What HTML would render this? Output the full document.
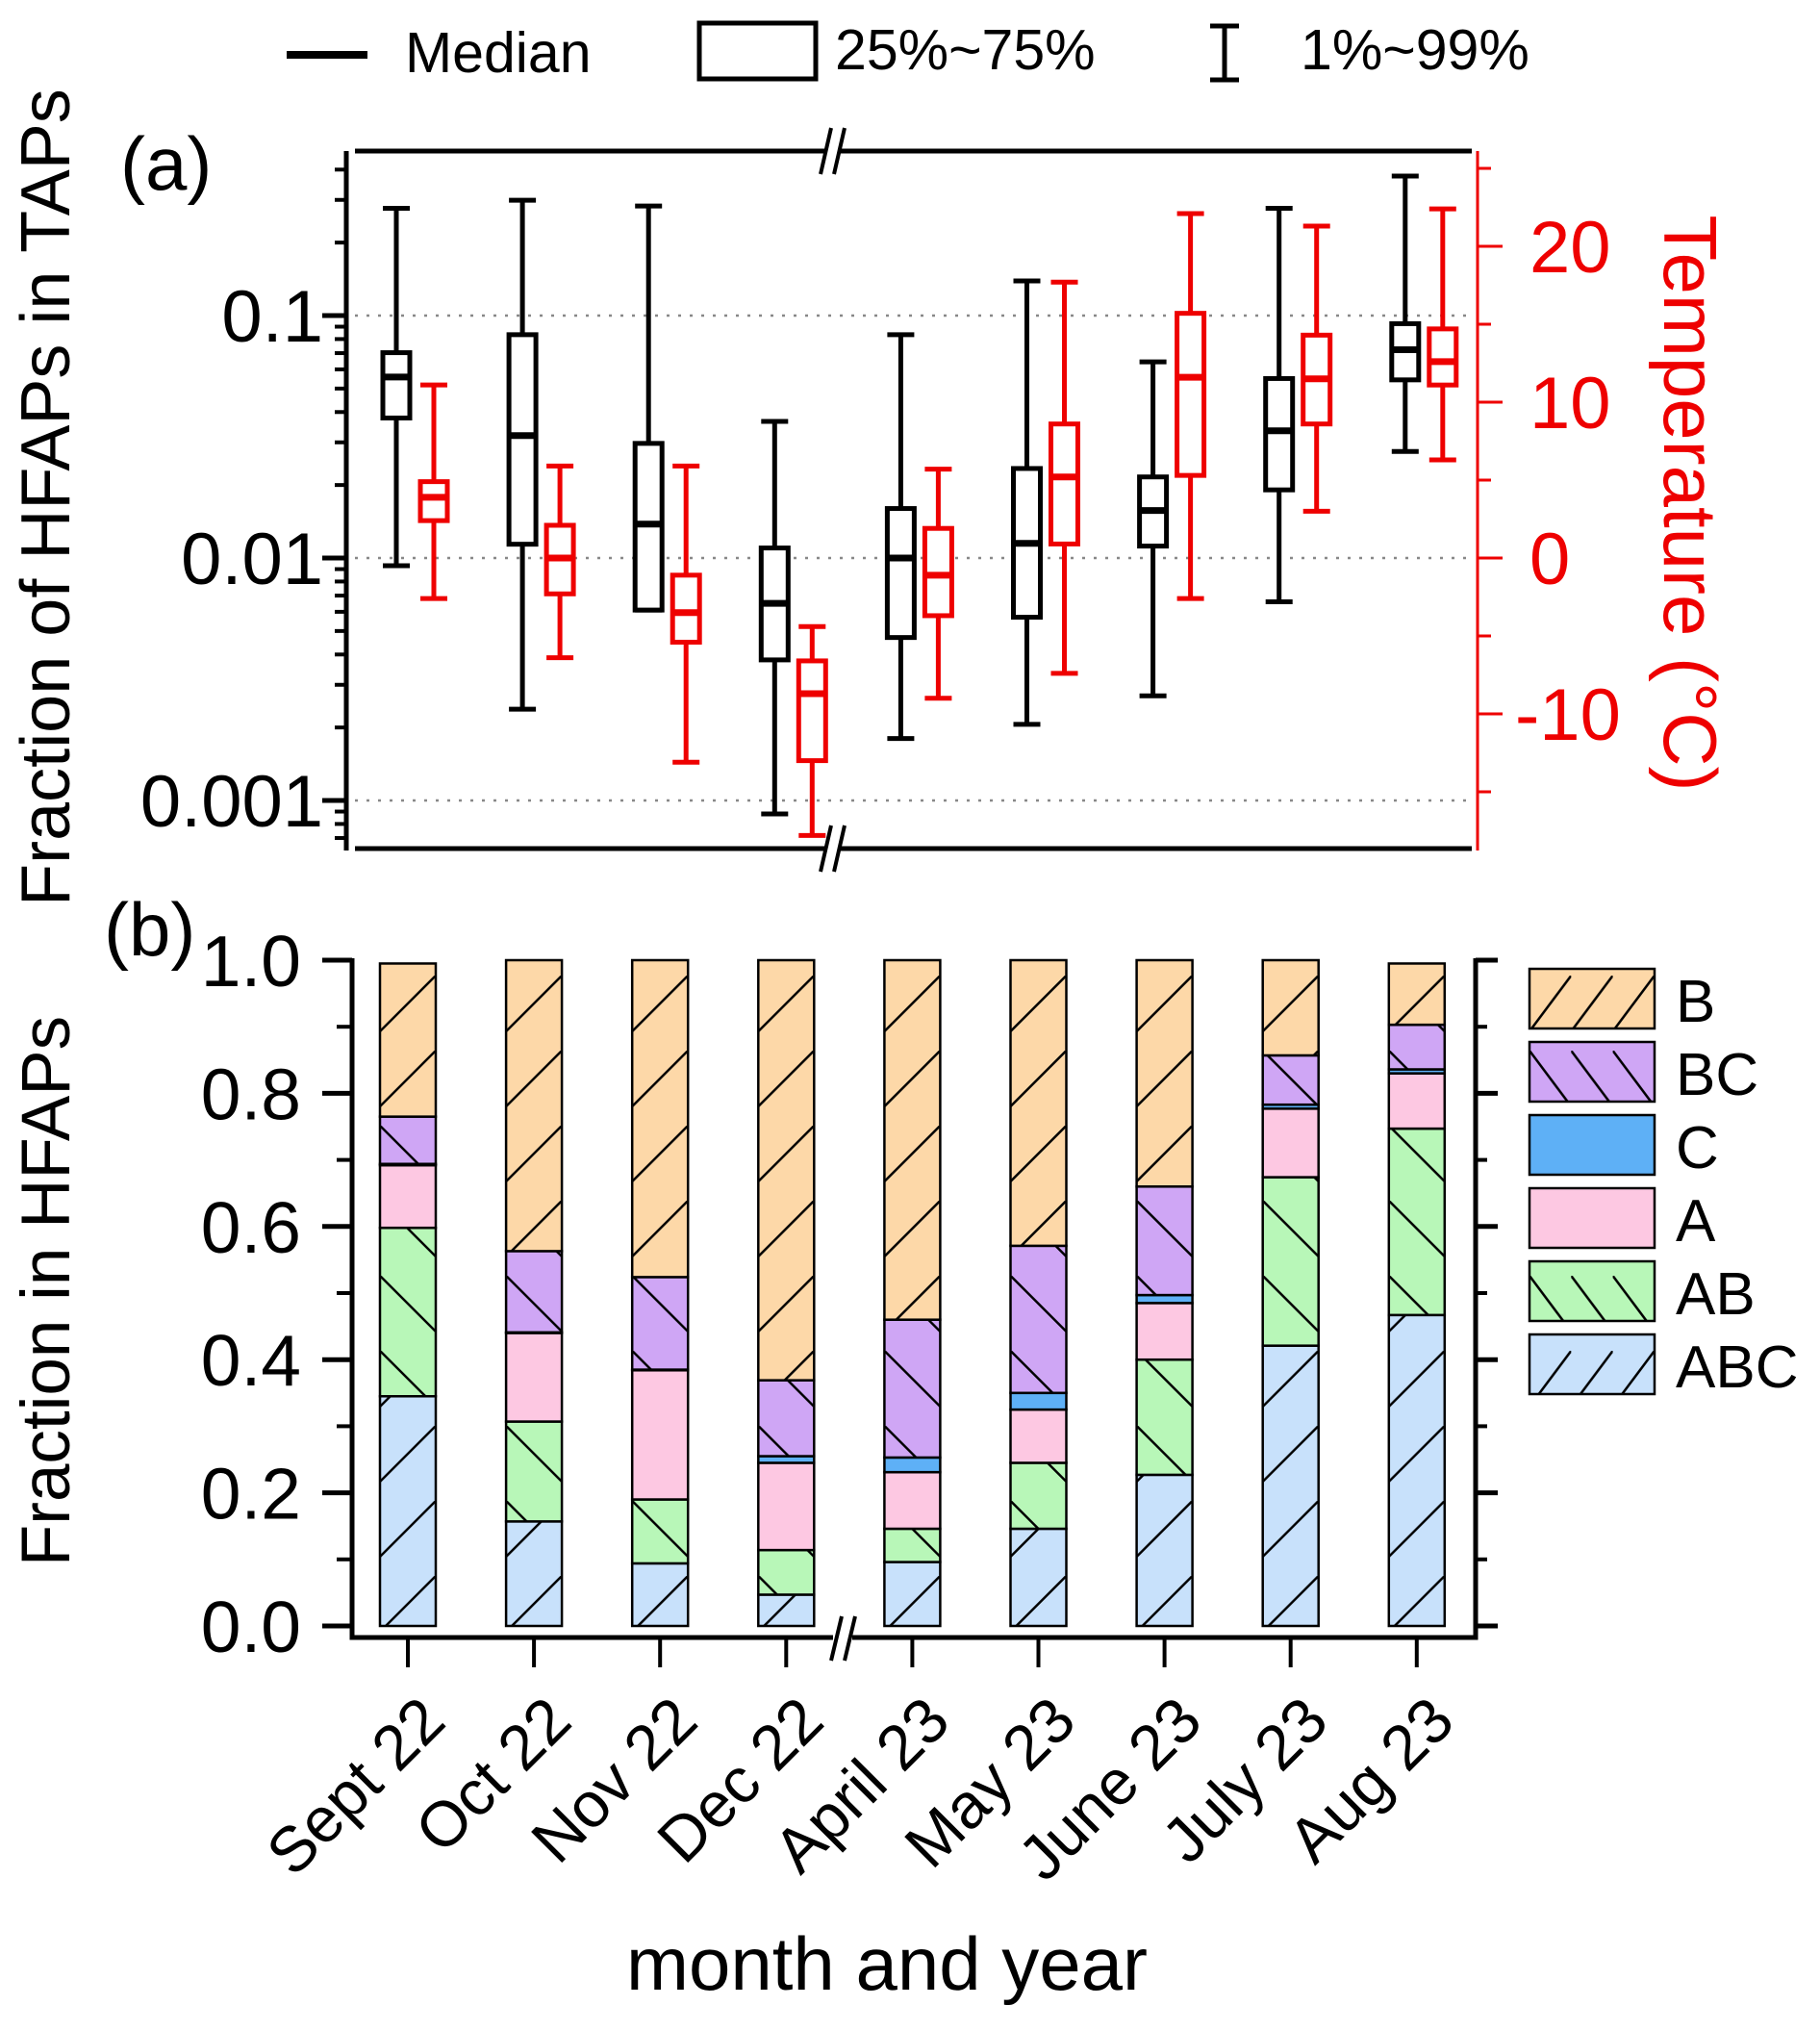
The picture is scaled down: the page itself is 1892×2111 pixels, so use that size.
<!DOCTYPE html>
<html><head><meta charset="utf-8"><style>
html,body{margin:0;padding:0;background:#fff;}
svg{display:block;font-family:"Liberation Sans",Arial,sans-serif;}
</style></head><body>
<svg id="chart" width="1892" height="2111" viewBox="0 0 1892 2111" xmlns="http://www.w3.org/2000/svg">
<defs id="defs"></defs>
<g id="layer"></g>
</svg>
<script>
// ---- panel (a) data ----
const months = ["Sept 22","Oct 22","Nov 22","Dec 22","April 23","May 23","June 23","July 23","Aug 23"];
const fracP1  = [0.0093,0.00238,0.0061,0.00088,0.0018,0.00206,0.0027,0.0066,0.0275];
const fracQ1  = [0.0378,0.0114,0.0061,0.0038,0.0047,0.0057,0.0112,0.0191,0.0543];
const fracMed = [0.0558,0.032,0.0138,0.0065,0.01,0.0115,0.0157,0.0335,0.0723];
const fracQ3  = [0.0703,0.0834,0.0297,0.011,0.016,0.0234,0.0216,0.055,0.0926];
const fracP99 = [0.277,0.299,0.283,0.0366,0.0834,0.139,0.0644,0.277,0.376];
const tempP1  = [-2.6,-6.4,-13.1,-17.8,-9.0,-7.4,-2.6,3.0,6.3];
const tempQ1  = [2.4,-2.3,-5.4,-13.0,-3.7,0.9,5.3,8.6,11.1];
const tempMed = [3.9,0,-3.5,-8.7,-1.1,5.2,11.6,11.5,12.6];
const tempQ3  = [4.9,2.1,-1.1,-6.6,1.9,8.6,15.7,14.3,14.7];
const tempP99 = [11.1,5.9,5.9,-4.4,5.7,17.7,22.1,21.3,22.4];
const logTicks = [0.1,0.01,0.001];
const logTickLabels = ["0.1","0.01","0.001"];
const tempTicks = [20,10,0,-10];
// ---- panel (b) data ----
const segNames = ["ABC","AB","A","C","BC","B"];
const segABC = [.345,.157,.094,.047,.096,.146,.227,.421,.467];
const segAB  = [.253,.150,.096,.067,.050,.099,.173,.253,.280];
const segA   = [.094,.133,.194,.131,.085,.080,.085,.103,.083];
const segC   = [.002,.001,.001,.010,.022,.025,.012,.006,.006];
const segBC  = [.071,.122,.139,.114,.207,.221,.163,.074,.067];
const segB   = [.230,.437,.476,.631,.540,.429,.340,.143,.092];
const fracTicks = [0,0.2,0.4,0.6,0.8,1.0];
const fracTickLabels = ["0.0","0.2","0.4","0.6","0.8","1.0"];

const NS="http://www.w3.org/2000/svg";
const layer=document.getElementById('layer');
const defs=document.getElementById('defs');
function mk(tag,attrs,parent){const e=document.createElementNS(NS,tag);for(const k in attrs)e.setAttribute(k,attrs[k]);(parent||layer).appendChild(e);return e;}
function txt(s,attrs){const e=mk('text',attrs);e.textContent=s;return e;}
let patId=0;
function hatch(x0,w,dir){
  const id='hp'+(patId++);
  const p=mk('pattern',{id:id,patternUnits:'userSpaceOnUse',x:x0,y:0,width:w,height:78},defs);
  if(dir>0) mk('line',{x1:0,y1:58,x2:w,y2:0,stroke:'#000','stroke-width':2.5},p);
  else mk('line',{x1:0,y1:0,x2:w,y2:58,stroke:'#000','stroke-width':2.5},p);
  return 'url(#'+id+')';
}

const catX = i => 424 + i*131.1;
const yLog = v => 580 - (Math.log10(v)+2)*252;
const yT = t => 580 - t*16.2;
const yF = f => 1690 - f*692;

let e;
// ---- legend top ----
e=mk('line',{x1:298,y1:57,x2:382,y2:57,stroke:'#000','stroke-width':8});

e=txt('Median',{x:421,y:75,'font-size':59});

e=mk('rect',{x:727,y:24,width:121,height:58,fill:'none',stroke:'#000','stroke-width':5});

e=txt('25%~75%',{x:868,y:72,'font-size':59});

e=mk('path',{d:'M1258 27 H1288 M1273 27 V83 M1258 83 H1288',fill:'none',stroke:'#000','stroke-width':5});

e=txt('1%~99%',{x:1352,y:72,'font-size':59});


// ---- panel (a) ----
e=txt('(a)',{x:125,y:197,'font-size':78});

logTicks.forEach((v,i)=>{
  const g=mk('line',{x1:369,x2:1530,y1:yLog(v),y2:yLog(v),stroke:'#888','stroke-width':2.5,'stroke-dasharray':'3 9'});
  
  const t=txt(logTickLabels[i],{x:336,y:yLog(v)+27,'font-size':76,'text-anchor':'end'});
  
  const tk=mk('line',{x1:335,x2:360,y1:yLog(v),y2:yLog(v),stroke:'#000','stroke-width':5});
  
});
[0.001,0.01,0.1].forEach(base=>{for(let m=2;m<=9;m++){const v=base*m;const y=yLog(v);if(y<160||y>880)continue;
  const tk=mk('line',{x1:348,x2:360,y1:y,y2:y,stroke:'#000','stroke-width':4});
  }});
[0.0006,0.0007,0.0008,0.0009].forEach(v=>{const y=yLog(v);if(y>880)return;const tk=mk('line',{x1:348,x2:360,y1:y,y2:y,stroke:'#000','stroke-width':4});
  });
e=mk('line',{x1:360,y1:157,x2:360,y2:884,stroke:'#000','stroke-width':5});

e=mk('path',{d:'M369 157 H1530 M369 882 H1530',stroke:'#000','stroke-width':5,fill:'none'});

e=mk('line',{x1:1536,y1:157,x2:1536,y2:884,stroke:'#e00','stroke-width':3});

tempTicks.forEach(t=>{
  const tk=mk('line',{x1:1536,x2:1562,y1:yT(t),y2:yT(t),stroke:'#e00','stroke-width':3});
  
  const lb=txt(String(t),{x:t<0?1575:1590,y:yT(t)+27,'font-size':76,fill:'#e00'});
  
});
[25,15,5,-5,-15].forEach(t=>{const y=yT(t);if(y<160)return;const tk=mk('line',{x1:1536,x2:1550,y1:y,y2:y,stroke:'#e00','stroke-width':3});
  });
[157,882].forEach(y=>{
  const w=mk('rect',{x:858,y:y-4,width:16,height:8,fill:'#fff'});
  const b=mk('path',{d:`M853 ${y+24} L864 ${y-24} M867 ${y+24} L878 ${y-24}`,stroke:'#000','stroke-width':4,fill:'none'});
  });
e=txt('Fraction of HFAPs in TAPs',{x:0,y:0,'font-size':72,'text-anchor':'middle',transform:'translate(72,517) rotate(-90)'});

e=txt('Temperature (°C)',{x:0,y:0,'font-size':78,'text-anchor':'middle',fill:'#e00',transform:'translate(1730,523) rotate(90)'});


function drawBox(cx,lo,q1,med,q3,hi,color,name){
  const g=mk('g',{});
  
  const hw=14,cw=14;
  mk('path',{d:`M${cx} ${hi} V${q3} M${cx} ${q1} V${lo} M${cx-cw} ${hi} H${cx+cw} M${cx-cw} ${lo} H${cx+cw}`,stroke:color,'stroke-width':5,fill:'none'},g);
  mk('rect',{x:cx-hw,y:q3,width:2*hw,height:Math.max(q1-q3,1),fill:'#fff',stroke:color,'stroke-width':5},g);
  mk('line',{x1:cx-hw,x2:cx+hw,y1:med,y2:med,stroke:color,'stroke-width':7},g);
}
months.forEach((m,i)=>{
  const bx=catX(i)-12, rx=catX(i)+27;
  drawBox(bx,yLog(fracP1[i]),yLog(fracQ1[i]),yLog(fracMed[i]),yLog(fracQ3[i]),yLog(fracP99[i]),'#000','fraction-box-'+i);
  drawBox(rx,yT(tempP1[i]),yT(tempQ1[i]),yT(tempMed[i]),yT(tempQ3[i]),yT(tempP99[i]),'#e00','temperature-box-'+i);
});

// ---- panel (b) ----
e=txt('(b)',{x:108,y:993,'font-size':78});

fracTicks.forEach((v,i)=>{
  const tk=mk('line',{x1:335,x2:366,y1:yF(v),y2:yF(v),stroke:'#000','stroke-width':5});
  
  const tr=mk('line',{x1:1534,x2:1557,y1:yF(v),y2:yF(v),stroke:'#000','stroke-width':5});
  
  const lb=txt(fracTickLabels[i],{x:313,y:yF(v)+27,'font-size':75,'text-anchor':'end'});
  
});
[0.1,0.3,0.5,0.7,0.9].forEach(v=>{
  const tk=mk('line',{x1:350,x2:366,y1:yF(v),y2:yF(v),stroke:'#000','stroke-width':4});
  
  const tr=mk('line',{x1:1534,x2:1546,y1:yF(v),y2:yF(v),stroke:'#000','stroke-width':4});
  
});
e=mk('path',{d:'M366 996 V1702 H1534 V996',stroke:'#000','stroke-width':5,fill:'none'});

e=txt('Fraction in HFAPs',{x:0,y:0,'font-size':71,'text-anchor':'middle',transform:'translate(72,1342) rotate(-90)'});


const segData=[segABC,segAB,segA,segC,segBC,segB];
const segFill=['#c8e1fb','#b8f7b8','#fdc8e2','#5eb0f6','#cfa6f5','#fdd8a8'];
const segDir=[1,-1,0,0,-1,1];
months.forEach((m,i)=>{
  let cum=0;const cx=catX(i),w=58;
  segData.forEach((arr,k)=>{
    const y0=yF(cum),y1=yF(cum+arr[i]);cum+=arr[i];
    const r=mk('rect',{x:cx-w/2,y:y1,width:w,height:y0-y1,fill:segFill[k],stroke:'#000','stroke-width':2.5});
    
    
    if(segDir[k]){const h=mk('rect',{x:cx-w/2,y:y1,width:w,height:y0-y1,fill:hatch(cx-w/2,w,segDir[k])});
      }
  });
  const tk=mk('line',{x1:cx,x2:cx,y1:1702,y2:1733,stroke:'#000','stroke-width':4});
  
  const lb=txt(m,{x:0,y:0,'font-size':66,'text-anchor':'end',transform:`translate(${cx+42},1792) rotate(-45)`});
  
});
e=mk('rect',{x:866,y:1697,width:20,height:10,fill:'#fff'});

e=mk('path',{d:'M864 1726 L875 1680 M878 1726 L889 1680',stroke:'#000','stroke-width':4,fill:'none'});

e=txt('month and year',{x:922,y:2068,'font-size':78,'text-anchor':'middle'});


// legend b
const legOrder=[5,4,3,2,1,0];
legOrder.forEach((k,j)=>{
  const y=1007+j*76;
  const r=mk('rect',{x:1590,y:y,width:130,height:62,fill:segFill[k],stroke:'#000','stroke-width':2.5});
  
  if(segDir[k]){const h=mk('rect',{x:1590,y:y,width:130,height:62,fill:hatch(1590,43.3,segDir[k])});}
  const t=txt(segNames[k],{x:1742,y:y+55,'font-size':62});
  
});
</script>
</body></html>
